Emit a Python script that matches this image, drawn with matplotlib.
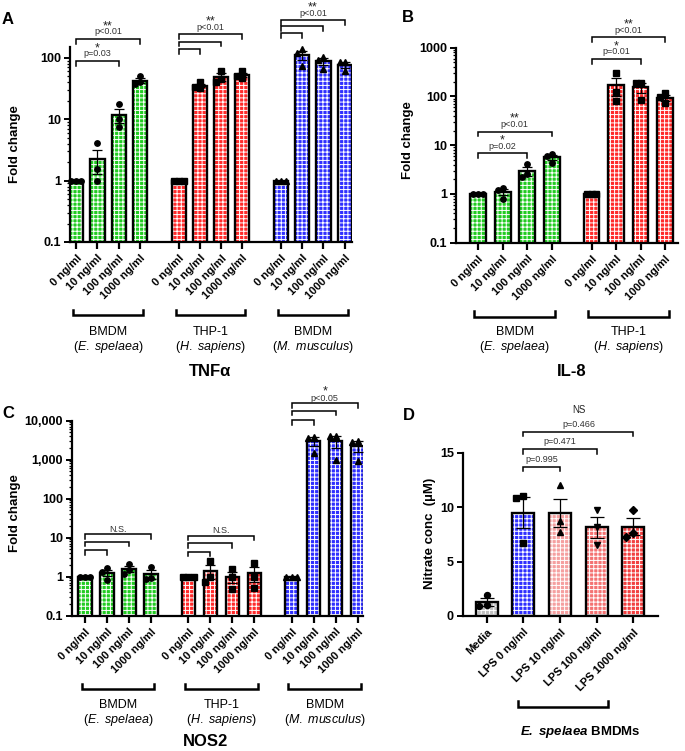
import numpy as np
import matplotlib
matplotlib.use("Agg")
from matplotlib import pyplot as plt
from matplotlib.ticker import LogLocator, NullFormatter

plt.rcParams['font.family'] = ['Liberation Sans', 'DejaVu Sans']
plt.rcParams['mathtext.fontset'] = 'custom'
plt.rcParams['mathtext.rm'] = 'Liberation Sans'
plt.rcParams['mathtext.it'] = 'Liberation Sans:italic'
plt.rcParams['mathtext.bf'] = 'Liberation Sans:bold'
plt.rcParams['mathtext.bfit'] = 'Liberation Sans:italic:bold'
plt.rcParams['hatch.linewidth'] = 0.7

# ---------------- data ----------------
doses = ["0 ng/ml", "10 ng/ml", "100 ng/ml", "1000 ng/ml"]
cell_names = ["BMDM", "THP-1", "BMDM"]
species_names = [r"E.\ spelaea", r"H.\ sapiens", r"M.\ musculus"]

# fold change replicates (3 per dose)
tnf_spelaea = [[1.0, 1.0, 1.0], [4.1, 1.55, 1.0], [17.5, 10.0, 7.5], [50, 40, 37]]
tnf_thp1 = [[1.0, 1.0, 1.0], [40, 34, 32], [62, 45, 40], [60, 50, 47]]
tnf_mouse = [[1.0, 1.0, 1.0], [140, 118, 74], [105, 92, 66], [87, 85, 60]]

il8_spelaea = [[1.0, 1.0, 1.0], [1.35, 1.2, 0.78], [4.1, 2.6, 2.2], [6.6, 5.9, 4.3]]
il8_thp1 = [[1.0, 1.0, 1.0], [300, 125, 80], [190, 185, 85], [116, 96, 72]]

nos2_spelaea = [[1.0, 1.0, 1.0], [1.64, 1.34, 0.8], [2.1, 1.45, 1.15], [1.74, 0.91, 0.88]]
nos2_thp1 = [[1.0, 1.0, 1.0], [2.5, 0.97, 0.74], [1.55, 1.0, 0.48], [2.3, 1.0, 0.5]]
nos2_mouse = [[1.0, 1.0, 1.0], [3870, 3540, 1450], [4150, 4150, 980], [3070, 2900, 940]]

nitrate_labels = ["Media", "LPS 0 ng/ml", "LPS 10 ng/ml", "LPS 100 ng/ml", "LPS 1000 ng/ml"]
nitrate = [[1.95, 1.0, 0.9], [11.04, 10.8, 6.67], [12.0, 8.74, 7.73], [9.7, 8.2, 6.5], [9.72, 7.6, 7.3]]

# significance: (bar i, bar j, p text, stars)
tnf_sig = [(0, 2, "p=0.03", "*"), (0, 3, "p<0.01", "**"),
           (4, 5, "", ""), (4, 6, "", ""), (4, 7, "p<0.01", "**"),
           (8, 9, "", ""), (8, 10, "", ""), (8, 11, "p<0.01", "**")]
il8_sig = [(0, 2, "p=0.02", "*"), (0, 3, "p<0.01", "**"),
           (4, 6, "p=0.01", "*"), (4, 7, "p<0.01", "**")]
nos2_sig = [(0, 1, "", ""), (0, 2, "", ""), (0, 3, "N.S.", ""),
            (4, 5, "", ""), (4, 6, "", ""), (4, 7, "N.S.", ""),
            (8, 9, "", ""), (8, 10, "", ""), (8, 11, "p<0.05", "*")]
nitrate_sig = [(1, 2, "p=0.995", ""), (1, 3, "p=0.471", ""), (1, 4, "p=0.466", "NS")]

# ---------------- style ----------------
GREEN, RED, BLUE = '#22cc22', '#ff2a2a', '#2f2fff'
nitrate_colors = ['#c0c0c0', BLUE, '#f5a0a0', '#f47272', '#f24040']
nitrate_markers = ['o', 's', '^', 'v', 'D']

W, H = 685, 751
fig = plt.figure(figsize=(W / 100, H / 100), dpi=100)


def add_ax(box):
    l, t, r, b = box
    return fig.add_axes([l / W, 1 - b / H, (r - l) / W, (b - t) / H])


def yfrac(box, ypx):
    return (box[3] - ypx) / (box[3] - box[1])


def swarm(vals, thr):
    placed, offs = [], []
    for v in vals:
        near = [o for pv, o in placed if abs(pv - v) < thr]
        o = 0
        for cand in [0, -1, 1, -2, 2]:
            if cand not in near:
                o = cand
                break
        placed.append((v, o))
        offs.append(o)
    return np.array(offs, float)


def draw_bars(ax, xs, data, colors, markers, logy, width, step, thr, cap, msize):
    for x, pts, c, mk in zip(xs, data, colors, markers):
        pts = np.asarray(pts, float)
        m = pts.mean()
        sem = pts.std(ddof=1) / np.sqrt(len(pts))
        b = 1e-3 if logy else 0
        ax.bar(x, m - b, width, bottom=b, color=c, edgecolor='white', hatch='++++',
               linewidth=0, zorder=1)
        ax.bar(x, m - b, width, bottom=b, fill=False, edgecolor='black', linewidth=1.7, zorder=2)
        ax.errorbar(x, m, yerr=sem, color='black', elinewidth=0.9, capsize=cap, capthick=0.9,
                    zorder=3)
        vals = np.log10(pts) if logy else pts
        offs = swarm(vals, thr) * step
        ax.plot(x + offs, pts, linestyle='none', marker=mk, color='black',
                markersize=msize, zorder=4, clip_on=False)


def style_ax(ax, xs, xlabels, xlim, xsize=8):
    for s in ['top', 'right']:
        ax.spines[s].set_visible(False)
    for s in ['left', 'bottom']:
        ax.spines[s].set_linewidth(1.6)
    ax.set_xlim(*xlim)
    ax.set_xticks(xs, xlabels, rotation=45, ha='right', rotation_mode='anchor',
                  fontweight='bold', fontsize=xsize)
    ax.tick_params(axis='x', length=5, width=1.6, pad=3)
    ax.tick_params(axis='y', which='major', length=4.5, width=1.4, labelsize=9, pad=2)
    ax.tick_params(axis='y', which='minor', length=2.5, width=0.9)
    for lab in ax.get_yticklabels():
        lab.set_fontweight('bold')


def log_axis(ax, lo, hi, ticks, labels):
    ax.set_yscale('log')
    ax.set_ylim(lo, hi)
    ax.set_yticks(ticks, labels)
    ax.yaxis.set_minor_locator(LogLocator(base=10, subs=np.arange(2, 10), numticks=20))
    ax.yaxis.set_minor_formatter(NullFormatter())


def sig_brackets(ax, box, xs, sig, heights, tick_px=4.5, p_off=7, s_off=13, psize=6.5, ssize=9):
    tr = ax.get_xaxis_transform()
    for (i, j, ptxt, star), ypx in zip(sig, heights):
        y = yfrac(box, ypx)
        dy = yfrac(box, ypx + tick_px)
        ax.plot([xs[i], xs[i], xs[j], xs[j]], [dy, y, y, dy], color='black', lw=1.1,
                transform=tr, clip_on=False, solid_joinstyle='miter')
        xc = (xs[i] + xs[j]) / 2
        if ptxt:
            ax.text(xc, yfrac(box, ypx - p_off), ptxt, transform=tr, ha='center', va='center',
                    fontsize=psize, color='#333333')
        if star:
            ax.text(xc, yfrac(box, ypx - s_off), star, transform=tr, ha='center', va='center',
                    fontsize=ssize, color='#222222')


def group_labels(ax, box, groups, cells, species, y_br, y_cell, y_sp):
    tr = ax.get_xaxis_transform()
    for g, cname, sp in zip(groups, cells, species):
        x0, x1 = g[0] - 0.15, g[-1] + 0.15
        yb = yfrac(box, y_br)
        yt = yfrac(box, y_br - 5.5)
        ax.plot([x0, x0, x1, x1], [yt, yb, yb, yt], color='black', lw=1.8, transform=tr,
                clip_on=False, solid_joinstyle='miter')
        xc = (g[0] + g[-1]) / 2
        ax.text(xc, yfrac(box, y_cell), cname, transform=tr, ha='center', va='center', fontsize=9)
        ax.text(xc, yfrac(box, y_sp), "(" + r"$\mathit{" + sp + "}$" + ")", transform=tr,
                ha='center', va='center', fontsize=9)


def fig_text(x, y, s, **kw):
    fig.text(x / W, 1 - y / H, s, **kw)


# ---------------- Panel A: TNFa ----------------
boxA = (70, 47, 352, 242)
axA = add_ax(boxA)
gA = [np.arange(4) + s for s in (0, 4.85, 9.7)]
xsA = np.concatenate(gA)
draw_bars(axA, xsA, tnf_spelaea + tnf_thp1 + tnf_mouse,
          [GREEN] * 4 + [RED] * 4 + [BLUE] * 4, ['o'] * 4 + ['s'] * 4 + ['^'] * 4,
          True, 0.67, 0.24, 0.09, 3.5, 3.9)
log_axis(axA, 0.1, 150, [0.1, 1, 10, 100], ["0.1", "1", "10", "100"])
style_ax(axA, xsA, doses * 3, (-0.3, 13.05))
sig_brackets(axA, boxA, xsA, tnf_sig, [61, 39, 49, 41.7, 34, 33, 26, 20])
group_labels(axA, boxA, gA, cell_names, species_names, 315, 332, 347)
fig_text(2, 20, "A", fontsize=12, fontweight='bold', va='center')
fig_text(15, 144, "Fold change", rotation=90, fontsize=9.5, fontweight='bold', ha='center', va='center')
fig_text(210, 371, "TNF\u03b1", fontsize=12, fontweight='bold', ha='center', va='center')

# ---------------- Panel B: IL-8 ----------------
boxB = (456, 47.7, 678, 242.7)
axB = add_ax(boxB)
gB = [np.arange(4) + s for s in (0, 4.63)]
xsB = np.concatenate(gB)
draw_bars(axB, xsB, il8_spelaea + il8_thp1, [GREEN] * 4 + [RED] * 4,
          ['o'] * 4 + ['s'] * 4, True, 0.65, 0.2, 0.11, 3.5, 3.9)
log_axis(axB, 0.1, 1000, [0.1, 1, 10, 100, 1000], ["0.1", "1", "10", "100", "1000"])
style_ax(axB, xsB, doses * 2, (-0.9, 8.16))
sig_brackets(axB, boxB, xsB, il8_sig, [153.3, 131.7, 59, 37.3])
group_labels(axB, boxB, gB, cell_names[:2], species_names[:2], 316.7, 332, 347)
fig_text(402, 18, "B", fontsize=12, fontweight='bold', va='center')
fig_text(408, 140, "Fold change", rotation=90, fontsize=9.5, fontweight='bold', ha='center', va='center')
fig_text(572, 371, "IL-8", fontsize=12, fontweight='bold', ha='center', va='center')

# ---------------- Panel C: NOS2 ----------------
boxC = (72, 420.7, 363, 615.7)
axC = add_ax(boxC)
gC = [np.arange(4) + s for s in (0, 4.7, 9.4)]
xsC = np.concatenate(gC)
draw_bars(axC, xsC, nos2_spelaea + nos2_thp1 + nos2_mouse,
          [GREEN] * 4 + [RED] * 4 + [BLUE] * 4, ['o'] * 4 + ['s'] * 4 + ['^'] * 4,
          True, 0.6, 0.24, 0.14, 3.5, 3.9)
log_axis(axC, 0.1, 10000, [0.1, 1, 10, 100, 1000, 10000],
         ["0.1", "1", "10", "100", "1,000", "10,000"])
style_ax(axC, xsC, doses * 3, (-0.59, 12.64))
sig_brackets(axC, boxC, xsC, nos2_sig, [550, 541.7, 534.3, 551.7, 543, 535.7, 420, 410.7, 403.3],
             p_off=5, s_off=12)
group_labels(axC, boxC, gC, cell_names, species_names, 689, 705, 720)
fig_text(2, 414, "C", fontsize=12, fontweight='bold', va='center')
fig_text(15, 513, "Fold change", rotation=90, fontsize=9.5, fontweight='bold', ha='center', va='center')
fig_text(205, 741, "NOS2", fontsize=12, fontweight='bold', ha='center', va='center')

# ---------------- Panel D: nitrate ----------------
boxD = (463, 452.7, 658, 616)
axD = add_ax(boxD)
xsD = np.arange(len(nitrate_labels))
draw_bars(axD, xsD, nitrate, nitrate_colors, nitrate_markers, False, 0.6, 0.2, 0.6, 4.7, 4.3)
axD.set_ylim(0, 15)
axD.set_yticks([0, 5, 10, 15], ["0", "5", "10", "15"])
style_ax(axD, xsD, nitrate_labels, (-0.65, 4.67))
sig_brackets(axD, boxD, xsD, nitrate_sig, [466.7, 449.3, 431.7], p_off=7.5, s_off=22, ssize=7)
trD = axD.get_xaxis_transform()
yb = yfrac(boxD, 706.7)
yt = yfrac(boxD, 701)
axD.plot([0.85, 0.85, 3.3, 3.3], [yt, yb, yb, yt], color='black', lw=1.8, transform=trD,
         clip_on=False, solid_joinstyle='miter')
fig_text(580, 731.7, r"$\mathbfit{E.\ spelaea}$ BMDMs", fontsize=9.5, fontweight='bold',
         ha='center', va='center')
fig_text(403, 415, "D", fontsize=12, fontweight='bold', va='center')
fig_text(430, 533, "Nitrate conc  (\u00b5M)", rotation=90, fontsize=9.5, fontweight='bold',
         ha='center', va='center')

fig.savefig("out.png", dpi=100)
